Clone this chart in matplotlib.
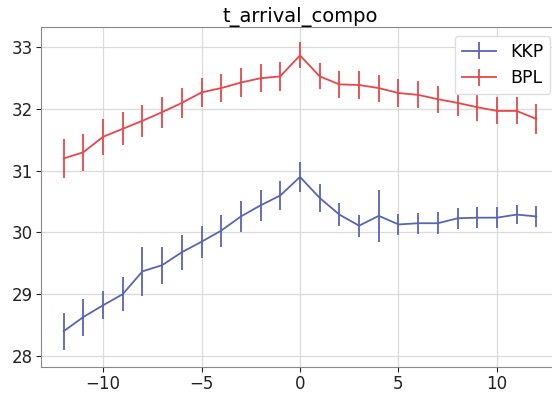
import numpy as np
import matplotlib
matplotlib.use("Agg")
import matplotlib.pyplot as plt

x = np.arange(-12, 13)

kkp = [28.40, 28.63, 28.82, 29.00, 29.37, 29.47, 29.68, 29.85, 30.03, 30.26, 30.44, 30.60,
       30.90, 30.56, 30.29, 30.11, 30.27, 30.13, 30.15, 30.15, 30.23, 30.24, 30.24, 30.29, 30.26]
kkp_err = [0.30, 0.30, 0.23, 0.28, 0.40, 0.30, 0.28, 0.26, 0.26, 0.25, 0.25, 0.23,
           0.24, 0.22, 0.19, 0.18, 0.42, 0.17, 0.17, 0.18, 0.17, 0.17, 0.17, 0.16, 0.17]

bpl = [31.20, 31.30, 31.55, 31.68, 31.81, 31.95, 32.10, 32.27, 32.34, 32.43, 32.50, 32.53,
       32.87, 32.53, 32.40, 32.39, 32.34, 32.26, 32.23, 32.16, 32.10, 32.03, 31.97, 31.97, 31.84]
bpl_err = [0.31, 0.30, 0.29, 0.27, 0.26, 0.25, 0.24, 0.23, 0.23, 0.23, 0.23, 0.23,
           0.21, 0.21, 0.22, 0.22, 0.22, 0.22, 0.22, 0.22, 0.22, 0.22, 0.22, 0.22, 0.24]

fig = plt.figure(figsize=(5.52, 3.94), dpi=100)
ax = fig.add_axes([41/552, 27/394, 518/552, 340/394])

ax.errorbar(x, kkp, yerr=kkp_err, color="#5865b5", lw=1.3, elinewidth=1.3, label="KKP")
ax.errorbar(x, bpl, yerr=bpl_err, color="#e8464b", lw=1.3, elinewidth=1.3, label="BPL")

ax.set_xlim(-13.15, 13.15)
ax.set_ylim(27.82, 33.33)
ax.set_xticks([-10, -5, 0, 5, 10])
ax.set_yticks([28, 29, 30, 31, 32, 33])
ax.tick_params(labelsize=12, colors="#222222", length=3.5, pad=2.5)
ax.grid(True, color="#dadada", lw=0.9)
ax.set_axisbelow(True)
for s in ax.spines.values():
    s.set_color("#888888")
ax.set_title("t_arrival_compo", fontsize=14, pad=3)
ax.legend(loc="upper right", fontsize=12.5, framealpha=1, edgecolor="#dddddd")

fig.savefig("out.png", dpi=100)
